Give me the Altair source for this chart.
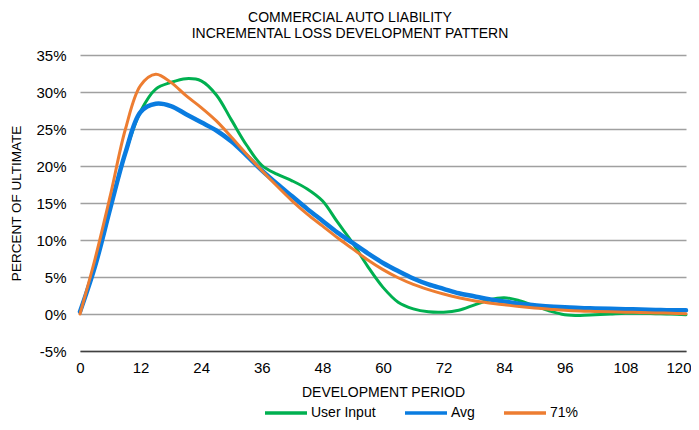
import altair as alt
import pandas as pd

months = [0, 3, 6, 9, 12, 15, 18, 21, 24, 27, 30, 33, 36, 39, 42, 45, 48, 51, 54, 57, 60,
          63, 66, 69, 72, 75, 78, 81, 84, 87, 90, 93, 96, 99, 102, 105, 108, 111, 114, 117, 120]

user_input = [0.3, 6.5, 14.3, 21.8, 27.4, 30.4, 31.3, 31.8, 31.5, 29.6, 26.2, 22.8, 20.1, 18.9,
              18.0, 16.9, 15.3, 12.4, 9.6, 6.4, 3.6, 1.6, 0.7, 0.3, 0.25, 0.5, 1.2, 1.9, 2.2,
              1.8, 1.1, 0.4, -0.1, -0.2, -0.1, 0.0, 0.1, 0.1, 0.05, 0.0, -0.1]

avg = [0.3, 6.5, 14.3, 21.8, 27.3, 28.4, 28.1, 27.0, 25.9, 24.8, 23.3, 21.4, 19.4, 17.6,
       15.9, 14.2, 12.6, 11.0, 9.6, 8.2, 6.9, 5.8, 4.8, 4.0, 3.4, 2.8, 2.4, 2.0, 1.7,
       1.4, 1.2, 1.0, 0.9, 0.8, 0.75, 0.7, 0.65, 0.6, 0.55, 0.5, 0.5]

pct71 = [0.0, 7.5, 16.0, 25.0, 30.9, 32.4, 31.3, 29.5, 27.9, 26.1, 23.9, 21.6, 19.4, 17.3,
         15.3, 13.5, 11.9, 10.3, 8.8, 7.3, 6.0, 4.9, 4.0, 3.3, 2.7, 2.2, 1.8, 1.5, 1.25,
         1.0, 0.8, 0.65, 0.5, 0.4, 0.35, 0.3, 0.25, 0.2, 0.15, 0.1, 0.05]

series_names = ["User Input", "Avg", "71%"]
series_colors = ["#00B050", "#0A7CE0", "#ED7D31"]
series_widths = [3, 4.5, 3]
x_ticks = list(range(0, 121, 12))
y_ticks = [-0.05, 0.0, 0.05, 0.10, 0.15, 0.20, 0.25, 0.30, 0.35]

FONT = "Liberation Sans"

def frame(name, vals):
    return pd.DataFrame({"month": months, "value": [v / 100 for v in vals], "series": name})

data_list = [frame(n, v) for n, v in zip(series_names, [user_input, avg, pct71])]

color_scale = alt.Scale(domain=series_names, range=series_colors)

layers = []
for i, (name, df) in enumerate(zip(series_names, data_list)):
    layer = alt.Chart(df).mark_line(
        interpolate="catmull-rom", strokeWidth=series_widths[i], strokeCap="round"
    ).encode(
        x=alt.X("month:Q",
                scale=alt.Scale(domain=[0, 120], nice=False, zero=False),
                axis=alt.Axis(values=x_ticks, title="DEVELOPMENT PERIOD", grid=False,
                              ticks=False, domain=True, domainColor="#404040",
                              domainWidth=1.5, labelPadding=9, titlePadding=10,
                              labelFontSize=15, titleFontSize=14, labelFlush=False,
                              labelAlign=alt.ExprRef("datum.value == 120 ? 'right' : 'center'"),
                              labelOffset=alt.ExprRef("datum.value == 120 ? 5 : 0"))),
        y=alt.Y("value:Q",
                scale=alt.Scale(domain=[-0.05, 0.35], nice=False, zero=False),
                axis=alt.Axis(values=y_ticks, title="PERCENT OF ULTIMATE",
                              labelExpr="round(datum.value * 100) + '%'",
                              grid=True, gridColor="#A0A0A0", gridWidth=1.5, ticks=False,
                              domain=False, labelPadding=14, titlePadding=12,
                              labelFontSize=15, titleFontSize=13.5)),
        color=alt.Color("series:N", scale=color_scale, title=None,
                        legend=alt.Legend(orient="none", legendX=183, legendY=335,
                                          direction="horizontal", symbolType="stroke",
                                          symbolSize=1764, symbolStrokeWidth=3.5,
                                          labelFontSize=14, labelOffset=2,
                                          columnPadding=22, labelFont=FONT)),
    )
    layers.append(layer)

chart = alt.layer(*layers).properties(
    width=606,
    height=296,
    autosize=alt.AutoSizeParams(type="none"),
    padding={"left": 72, "top": 47, "right": 5, "bottom": 71},
    title=alt.Title(
        ["COMMERCIAL AUTO LIABILITY", "INCREMENTAL LOSS DEVELOPMENT PATTERN"],
        fontSize=14, fontWeight="normal", color="#000000", font=FONT,
        anchor="middle", offset=7, lineHeight=16, dx=-33,
    ),
).configure_view(stroke=None).configure_axis(
    labelFont=FONT, titleFont=FONT, labelColor="#000000", titleColor="#000000",
    titleFontWeight="normal",
).configure_legend(labelColor="#000000")

chart.save("out.html", embed_options={"renderer": "svg", "actions": False})
